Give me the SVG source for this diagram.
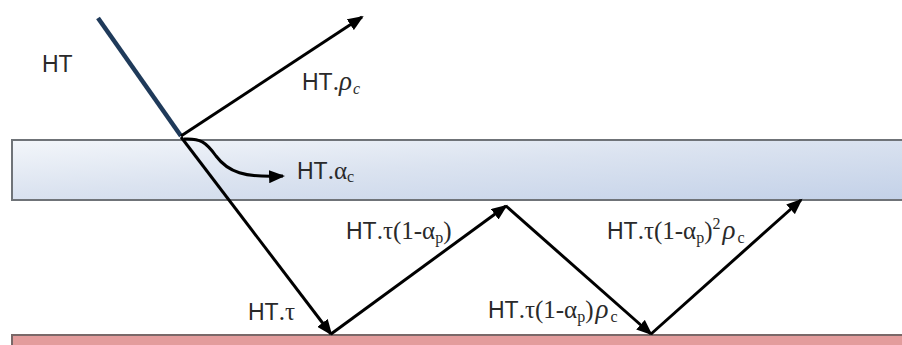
<svg xmlns="http://www.w3.org/2000/svg" width="902" height="345" viewBox="0 0 902 345">
<defs>
<linearGradient id="glass" x1="0" y1="0" x2="1" y2="1">
<stop offset="0" stop-color="#f3f6fa"/>
<stop offset="0.45" stop-color="#dbe3f0"/>
<stop offset="1" stop-color="#c3d1e8"/>
</linearGradient>
<marker id="ah" markerUnits="userSpaceOnUse" markerWidth="17" markerHeight="13" refX="14" refY="6.5" orient="auto">
<path d="M0,0 L16,6.5 L0,13 z" fill="#000"/>
</marker>
<style>
.lbl{font-family:"Liberation Sans",Arial,sans-serif;font-size:23px;fill:#2a2a2a}
.sr{font-family:"Liberation Serif","Times New Roman",serif;font-size:25px}
.rho{font-family:"Liberation Serif","Times New Roman",serif;font-size:27px;font-style:italic}
.sub{font-family:"Liberation Serif","Times New Roman",serif;font-size:16px}
.ray{stroke:#000;stroke-width:3;fill:none;marker-end:url(#ah)}
</style>
</defs>
<rect width="902" height="345" fill="#fff"/>
<g id="glass-cover">
<rect x="12" y="140" width="900" height="60" fill="url(#glass)" stroke="#6f7378" stroke-width="2"/>
</g>
<g id="absorber-plate">
<rect x="12" y="335" width="900" height="20" fill="#e39c9c" stroke="#7a6868" stroke-width="2"/>
</g>
<g id="connectors">
<path d="M98,18 L181,136" stroke="#1f3a5a" stroke-width="4.5" fill="none"/>
<path class="ray" d="M181,136 L362,17"/>
<path class="ray" d="M184,139 C200,138 206,142 216,156 C228,172 244,178 283,176"/>
<path class="ray" d="M181,137 L331,334"/>
<path class="ray" d="M331,334 L506,206"/>
<path class="ray" d="M506,206 L651,334"/>
<path class="ray" d="M651,334 L801,200"/>
</g>
<g id="label-ht"><text class="lbl" x="42" y="72">HT</text></g>
<g id="label-reflect"><text class="lbl" x="302" y="90">HT<tspan class="sr">.</tspan><tspan class="rho">ρ</tspan><tspan class="sub" font-style="italic" dy="4" dx="1">c</tspan></text></g>
<g id="label-absorb"><text class="lbl" x="297" y="179">HT<tspan class="sr">.α</tspan><tspan class="sub" dy="3">c</tspan></text></g>
<g id="label-tau"><text class="lbl" x="248" y="320">HT<tspan class="sr">.τ</tspan></text></g>
<g id="label-t1"><text class="lbl" x="346" y="239">HT<tspan class="sr">.τ(1-α</tspan><tspan class="sub" dy="4">p</tspan><tspan class="sr" dy="-4">)</tspan></text></g>
<g id="label-t2"><text class="lbl" x="488" y="318">HT<tspan class="sr">.τ(1-α</tspan><tspan class="sub" dy="4">p</tspan><tspan class="sr" dy="-4">)</tspan><tspan class="rho" dx="2">ρ</tspan><tspan class="sub" dy="4" dx="2">c</tspan></text></g>
<g id="label-t3"><text class="lbl" x="607" y="239">HT<tspan class="sr">.τ(1-α</tspan><tspan class="sub" dy="4">p</tspan><tspan class="sr" dy="-4">)</tspan><tspan class="sub" dy="-10">2</tspan><tspan class="rho" dy="10" dx="2">ρ</tspan><tspan class="sub" dy="4" dx="2">c</tspan></text></g>
</svg>
